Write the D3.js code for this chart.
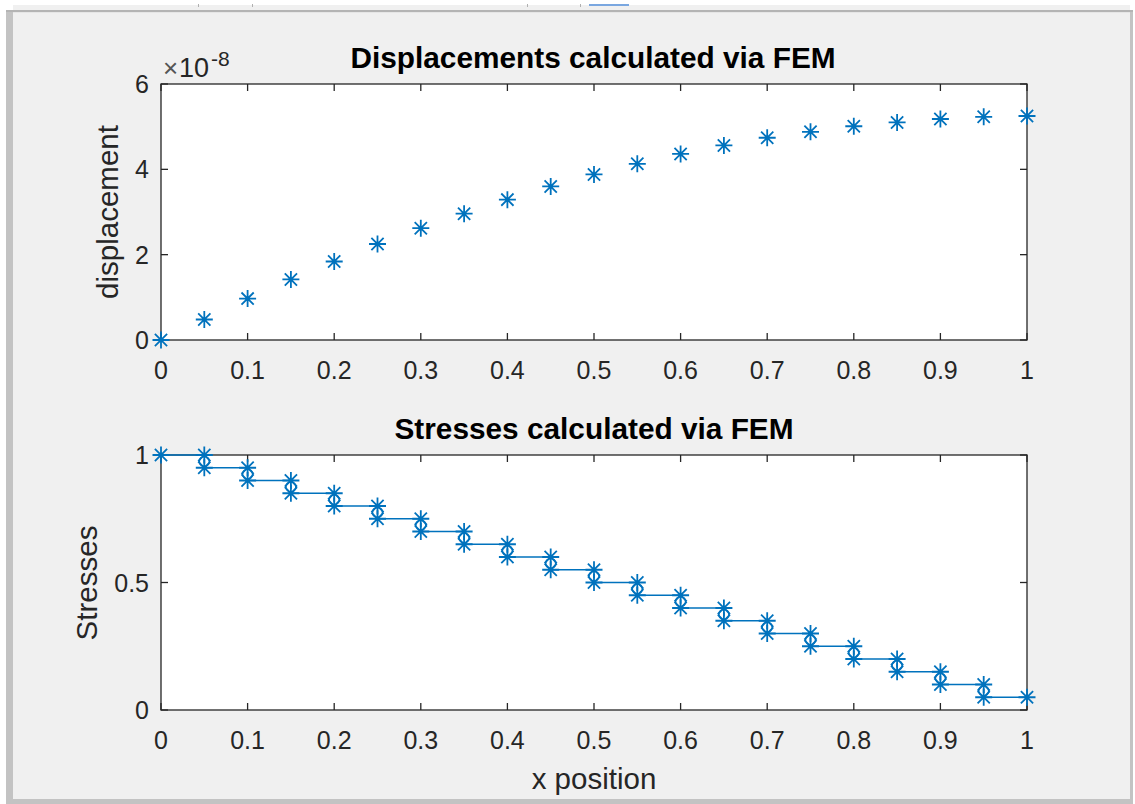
<!DOCTYPE html>
<html>
<head>
<meta charset="utf-8">
<script src="https://cdn.jsdelivr.net/npm/d3@7"></script>
<style>
  html, body { margin: 0; padding: 0; background: #ffffff; }
  svg { display: block; }
  text { font-family: "Liberation Sans", Arial, Helvetica, sans-serif; fill: #262626; }
</style>
</head>
<body>
<div id="chart"></div>
<script>

// node positions along the bar
var xNodes = [0, 0.05, 0.1, 0.15, 0.2, 0.25, 0.3, 0.35, 0.4, 0.45, 0.5,
              0.55, 0.6, 0.65, 0.7, 0.75, 0.8, 0.85, 0.9, 0.95, 1];

// nodal displacements, in units of 1e-8
var displacement = [0, 0.48, 0.97, 1.42, 1.84, 2.25, 2.62, 2.96, 3.29, 3.6, 3.88,
                    4.13, 4.36, 4.56, 4.74, 4.88, 5.01, 5.1, 5.18, 5.23, 5.25];

// constant stress in each element (element i runs from node i to node i+1)
var elementStress = [1, 0.95, 0.9, 0.85, 0.8, 0.75, 0.7, 0.65, 0.6, 0.55,
                     0.5, 0.45, 0.4, 0.35, 0.3, 0.25, 0.2, 0.15, 0.1, 0.05];

// averaged stress at the interior nodes (circle markers)
var nodeStressX = [0.05, 0.1, 0.15, 0.2, 0.25, 0.3, 0.35, 0.4, 0.45, 0.5,
                   0.55, 0.6, 0.65, 0.7, 0.75, 0.8, 0.85, 0.9, 0.95];
var nodeStress = [0.975, 0.925, 0.875, 0.825, 0.775, 0.725, 0.675, 0.625, 0.575, 0.525,
                  0.475, 0.425, 0.375, 0.325, 0.275, 0.225, 0.175, 0.125, 0.075];

var xTicks = [0, 0.1, 0.2, 0.3, 0.4, 0.5, 0.6, 0.7, 0.8, 0.9, 1];
var dispTicks = [0, 2, 4, 6];
var stressTicks = [0, 0.5, 1];

var blue = '#0072BD';
var axisColor = '#262626';

var width = 1135, height = 804;

var svg = d3.select('#chart').append('svg')
  .attr('width', width)
  .attr('height', height);

// ---- window frame around the figure ----
svg.append('rect').attr('x', 0).attr('y', 0).attr('width', width).attr('height', height).attr('fill', '#ffffff');
svg.append('rect').attr('x', 13).attr('y', 5).attr('width', 1117).attr('height', 6).attr('fill', '#f0f0f0');
svg.append('rect').attr('x', 6).attr('y', 10).attr('width', 1127).attr('height', 2).attr('fill', '#b4b4b4');
svg.append('rect').attr('x', 6).attr('y', 12).attr('width', 7).attr('height', 792).attr('fill', '#c3c3c3');
svg.append('rect').attr('x', 1130).attr('y', 12).attr('width', 3).attr('height', 792).attr('fill', '#c3c3c3');
svg.append('rect').attr('x', 6).attr('y', 799).attr('width', 1127).attr('height', 5).attr('fill', '#c3c3c3');
svg.append('rect').attr('x', 13).attr('y', 12).attr('width', 1117).attr('height', 787).attr('fill', '#f0f0f0');
svg.append('rect').attr('x', 13).attr('y', 12).attr('width', 1117).attr('height', 1).attr('fill', '#e6e6e6');
// small bits of the toolbar that peek in at the top
svg.append('rect').attr('x', 589).attr('y', 4).attr('width', 40).attr('height', 2).attr('fill', '#7aa7e0');
[198, 252, 527, 580].forEach(function(px) {
  svg.append('rect').attr('x', px).attr('y', 4).attr('width', 1).attr('height', 3).attr('fill', '#b0b0b0');
});

// asterisk marker: a plus and a cross laid over each other
var starR = 8.5;
var starPath = function() {
  var d = starR * 0.72;
  return 'M' + (-starR) + ',0L' + starR + ',0' +
         'M0,' + (-starR) + 'L0,' + starR +
         'M' + (-d) + ',' + (-d) + 'L' + d + ',' + d +
         'M' + (-d) + ',' + d + 'L' + d + ',' + (-d);
};

// draws an axes box with inward ticks on all four sides
var drawAxes = function(g, x, y, yTicks, yFormat) {
  var x0 = x.range()[0], x1 = x.range()[1];
  var y0 = y.range()[0], y1 = y.range()[1];
  var tickLen = 7;

  g.append('rect')
    .attr('x', x0).attr('y', y1)
    .attr('width', x1 - x0).attr('height', y0 - y1)
    .attr('fill', '#ffffff');

  var ticks = g.append('g').attr('stroke', axisColor).attr('stroke-width', 1.3);

  xTicks.forEach(function(t) {
    ticks.append('line').attr('x1', x(t)).attr('x2', x(t)).attr('y1', y0).attr('y2', y0 - tickLen);
    ticks.append('line').attr('x1', x(t)).attr('x2', x(t)).attr('y1', y1).attr('y2', y1 + tickLen);
  });
  yTicks.forEach(function(t) {
    ticks.append('line').attr('x1', x0).attr('x2', x0 + tickLen).attr('y1', y(t)).attr('y2', y(t));
    ticks.append('line').attr('x1', x1).attr('x2', x1 - tickLen).attr('y1', y(t)).attr('y2', y(t));
  });

  g.selectAll('.xlab').data(xTicks).enter().append('text')
    .attr('x', function(d) { return x(d); })
    .attr('y', y0 + 39)
    .attr('text-anchor', 'middle')
    .style('font-size', '25px')
    .text(function(d) { return d3.format('~g')(d); });

  g.selectAll('.ylab').data(yTicks).enter().append('text')
    .attr('x', x0 - 12)
    .attr('y', function(d) { return y(d) + 9; })
    .attr('text-anchor', 'end')
    .style('font-size', '25px')
    .text(yFormat);
};

var drawBox = function(g, x, y) {
  g.append('rect')
    .attr('x', x.range()[0]).attr('y', y.range()[1])
    .attr('width', x.range()[1] - x.range()[0])
    .attr('height', y.range()[0] - y.range()[1])
    .attr('fill', 'none')
    .attr('stroke', axisColor)
    .attr('stroke-width', 1.3);
};

// ---- top panel: displacements ----
var xTop = d3.scaleLinear().domain([0, 1]).range([161, 1027]);
var yTop = d3.scaleLinear().domain([0, 6]).range([340, 84]);

var topPanel = svg.append('g');
drawAxes(topPanel, xTop, yTop, dispTicks, function(d) { return d; });
drawBox(topPanel, xTop, yTop);

topPanel.selectAll('.disp').data(xNodes).enter().append('path')
  .attr('transform', function(d, i) { return 'translate(' + xTop(d) + ',' + yTop(displacement[i]) + ')'; })
  .attr('d', starPath())
  .attr('fill', 'none')
  .attr('stroke', blue)
  .attr('stroke-width', 1.8);

topPanel.append('text')
  .attr('x', 593).attr('y', 68)
  .attr('text-anchor', 'middle')
  .style('font-size', '29.8px')
  .style('font-weight', 'bold')
  .style('fill', '#000000')
  .text('Displacements calculated via FEM');

// exponent label, built from separate pieces so each size can be set
var expo = topPanel.append('g').style('fill', '#262626');
expo.append('text').attr('x', 163).attr('y', 77).style('font-size', '26px').style('fill', '#555555').text('\u00d7');
expo.append('text').attr('x', 179).attr('y', 77).style('font-size', '27px').text('10');
expo.append('text').attr('x', 211).attr('y', 66).style('font-size', '21px').text('-8');

topPanel.append('text')
  .attr('transform', 'translate(118,' + 212 + ') rotate(-90)')
  .attr('text-anchor', 'middle')
  .style('font-size', '29.5px')
  .text('displacement');

// ---- bottom panel: stresses ----
var xBot = d3.scaleLinear().domain([0, 1]).range([161, 1027]);
var yBot = d3.scaleLinear().domain([0, 1]).range([710, 455]);

var botPanel = svg.append('g');
drawAxes(botPanel, xBot, yBot, stressTicks, function(d) { return d3.format('~g')(d); });
drawBox(botPanel, xBot, yBot);

// element segments: constant stress from left node to right node
var segs = elementStress.map(function(s, i) {
  return {xa: xNodes[i], xb: xNodes[i + 1], s: s};
});

botPanel.selectAll('.seg').data(segs).enter().append('line')
  .attr('x1', function(d) { return xBot(d.xa); })
  .attr('x2', function(d) { return xBot(d.xb); })
  .attr('y1', function(d) { return yBot(d.s); })
  .attr('y2', function(d) { return yBot(d.s); })
  .attr('stroke', blue)
  .attr('stroke-width', 1.5);

// circles for the averaged nodal stress
botPanel.selectAll('.avg').data(nodeStressX).enter().append('circle')
  .attr('cx', function(d) { return xBot(d); })
  .attr('cy', function(d, i) { return yBot(nodeStress[i]); })
  .attr('r', 5)
  .attr('fill', 'none')
  .attr('stroke', blue)
  .attr('stroke-width', 1.5);

// stars at both ends of every element
var ends = [];
segs.forEach(function(d) {
  ends.push({x: d.xa, s: d.s});
  ends.push({x: d.xb, s: d.s});
});

botPanel.selectAll('.end').data(ends).enter().append('path')
  .attr('transform', function(d) { return 'translate(' + xBot(d.x) + ',' + yBot(d.s) + ')'; })
  .attr('d', starPath())
  .attr('fill', 'none')
  .attr('stroke', blue)
  .attr('stroke-width', 1.8);

botPanel.append('text')
  .attr('x', 594).attr('y', 439)
  .attr('text-anchor', 'middle')
  .style('font-size', '29.8px')
  .style('font-weight', 'bold')
  .style('fill', '#000000')
  .text('Stresses calculated via FEM');

botPanel.append('text')
  .attr('transform', 'translate(97,' + 583 + ') rotate(-90)')
  .attr('text-anchor', 'middle')
  .style('font-size', '29.5px')
  .text('Stresses');

botPanel.append('text')
  .attr('x', 594).attr('y', 789)
  .attr('text-anchor', 'middle')
  .style('font-size', '29.5px')
  .text('x position');

</script>
</body>
</html>
